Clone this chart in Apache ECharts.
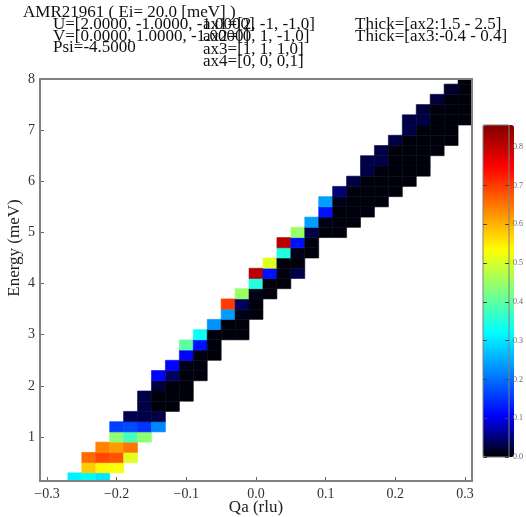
<!DOCTYPE html>
<html>
<head>
<meta charset="utf-8">
<script src="https://cdn.jsdelivr.net/npm/echarts@6/dist/echarts.min.js"></script>
<style>
  html, body { margin: 0; padding: 0; background: #fff; }
  #chart { width: 526px; height: 517px; }
</style>
</head>
<body>
<div id="chart"></div>
<script>
// energy bin centres (meV), one per row of the slice
const energy = [0.2, 0.4, 0.6, 0.8, 1.0, 1.2, 1.4, 1.6, 1.8, 2.0,
                2.2, 2.4, 2.6, 2.8, 3.0, 3.2, 3.4, 3.6, 3.8, 4.0,
                4.2, 4.4, 4.6, 4.8, 5.0, 5.2, 5.4, 5.6, 5.8, 6.0,
                6.2, 6.4, 6.6, 6.8, 7.0, 7.2, 7.4, 7.6, 7.8, 8.0]

// Qa centre of the first filled bin in each row (rlu)
const rowStartQ = [-0.26, -0.24, -0.24, -0.22, -0.20, -0.20, -0.18, -0.16, -0.16, -0.14,
                   -0.14, -0.12, -0.10, -0.10, -0.08, -0.06, -0.04, -0.04, -0.02, 0.00,
                   0.00, 0.02, 0.04, 0.04, 0.06, 0.08, 0.10, 0.10, 0.12, 0.14,
                   0.16, 0.16, 0.18, 0.20, 0.22, 0.22, 0.24, 0.26, 0.28, 0.30]

// intensity of consecutive Qa bins along each row
const intensity = [
  [0.31, 0.32, 0.30],
  [0.58, 0.54, 0.53],
  [0.66, 0.69, 0.68, 0.51],
  [0.64, 0.62, 0.65],
  [0.44, 0.38, 0.44],
  [0.16, 0.17, 0.15, 0.22],
  [0.035, 0.03, 0.03],
  [0.03, 0.005, 0.005],
  [0.03, 0.005, 0.005, 0.005],
  [0.025, 0.005, 0.005],
  [0.11, 0.04, 0.005, 0.005],
  [0.11, 0.01, 0.005],
  [0.11, 0.005, 0.005],
  [0.40, 0.12, 0.005],
  [0.33, 0.005, 0.005, 0.005],
  [0.23, 0.005, 0.005],
  [0.24, 0.01, 0.005],
  [0.70, 0.04, 0.005],
  [0.45, 0.01, 0.005],
  [0.35, 0.005, 0.005],
  [0.81, 0.12, 0.005, 0.03],
  [0.51, 0.005, 0.005],
  [0.35, 0.01, 0.005],
  [0.81, 0.12, 0.005],
  [0.45, 0.03, 0.005, 0.005],
  [0.24, 0.01, 0.005, 0.005],
  [0.12, 0.005, 0.005, 0.005],
  [0.24, 0.01, 0.005, 0.005, 0.005],
  [0.05, 0.005, 0.005, 0.005, 0.005],
  [0.03, 0.005, 0.005, 0.005, 0.005],
  [0.03, 0.005, 0.005, 0.005, 0.005],
  [0.03, 0.03, 0.005, 0.005, 0.005],
  [0.03, 0.005, 0.005, 0.005, 0.005],
  [0.03, 0.005, 0.005, 0.005, 0.005],
  [0.03, 0.005, 0.005, 0.005],
  [0.03, 0.03, 0.005, 0.005, 0.005],
  [0.025, 0.005, 0.005, 0.005],
  [0.025, 0.005, 0.005],
  [0.02, 0.005],
  [0.005]
]

const qBin = 0.02
const eBin = 0.2

const qTicks = [-0.3, -0.2, -0.1, 0.0, 0.1, 0.2, 0.3]
const eTicks = [1, 2, 3, 4, 5, 6, 7, 8]
const cbarTicks = [0.0, 0.1, 0.2, 0.3, 0.4, 0.5, 0.6, 0.7, 0.8]
const cbarMax = 0.856

const headerLeft = ['AMR21961 ( Ei= 20.0 [meV] )', 'U=[2.0000, -1.0000, -1.0000]', 'V=[0.0000, 1.0000, -1.0000]', 'Psi=-4.5000']
const headerAxes = ['ax1=[2, -1, -1,0]', 'ax2=[0, 1, -1,0]', 'ax3=[1, 1, 1,0]', 'ax4=[0, 0, 0,1]']
const headerThick = ['Thick=[ax2:1.5 - 2.5]', 'Thick=[ax3:-0.4 - 0.4]']

// flatten rows into [Qa, E, I] cells
const cells = []
energy.forEach((e, j) => {
  intensity[j].forEach((v, k) => {
    cells.push([+(rowStartQ[j] + k * qBin).toFixed(2), e, v])
  })
})

const serif = 'Liberation Serif'
const minus = v => String(v).replace('-', '\u2212')

const chart = echarts.init(document.getElementById('chart'))

const headerText = (text, x, y) => ({
  type: 'text', x: x, y: y,
  style: { text: text, font: '17px "' + serif + '"', fill: '#111', textVerticalAlign: 'middle' }
})

const option = {
  animation: false,
  grid: [
    { left: 40, top: 79, width: 432, height: 402, show: true, borderColor: '#808080', borderWidth: 2, z: 6 },
    { left: 483, top: 125, width: 31, height: 332, show: true, borderColor: '#808080', borderWidth: 1, z: 6 }
  ],
  xAxis: [
    {
      type: 'value', gridIndex: 0, min: -0.31, max: 0.31,
      axisLine: { show: false, onZero: false },
      axisTick: { show: true, inside: true, length: 4, customValues: qTicks, lineStyle: { color: '#666' } },
      axisLabel: {
        customValues: qTicks, margin: 6, color: '#333',
        fontFamily: serif, fontSize: 14,
        formatter: v => minus(v.toFixed(1))
      },
      splitLine: { show: false }
    },
    { type: 'value', gridIndex: 1, show: false, min: 0, max: 1 }
  ],
  yAxis: [
    {
      type: 'value', gridIndex: 0, min: 0.14, max: 8.0,
      axisLine: { show: false, onZero: false },
      axisTick: { show: true, inside: true, length: 4, customValues: eTicks, lineStyle: { color: '#666' } },
      axisLabel: {
        customValues: eTicks, margin: 5, color: '#333',
        fontFamily: serif, fontSize: 14,
        formatter: v => String(Math.round(v))
      },
      splitLine: { show: false }
    },
    {
      type: 'value', gridIndex: 1, position: 'right', min: 0, max: cbarMax, z: 6,
      axisLine: { show: false, onZero: false },
      axisTick: { show: true, inside: true, length: 4, customValues: cbarTicks, lineStyle: { color: '#444' } },
      axisLabel: {
        customValues: cbarTicks, margin: 4, color: '#666',
        fontFamily: serif, fontSize: 8,
        formatter: v => v.toFixed(1)
      },
      splitLine: { show: false }
    },
    {
      type: 'value', gridIndex: 1, position: 'left', min: 0, max: cbarMax, z: 6,
      axisLine: { show: false, onZero: false },
      axisTick: { show: true, inside: true, length: 4, customValues: cbarTicks, lineStyle: { color: '#444' } },
      axisLabel: { show: false },
      splitLine: { show: false }
    }
  ],
  visualMap: {
    type: 'continuous',
    min: 0, max: cbarMax,
    dimension: 2, seriesIndex: 0,
    calculable: false, hoverLink: false,
    orient: 'vertical', left: 483, top: 125, padding: 0,
    itemWidth: 31, itemHeight: 332,
    text: null,
    inRange: {
      color: ['#000000', '#0000ff', '#0080ff', '#00ffff', '#80ff80', '#ffff00', '#ff8000', '#ff0000', '#800000']
    }
  },
  series: [{
    type: 'custom',
    xAxisIndex: 0, yAxisIndex: 0,
    data: cells,
    renderItem: function (params, api) {
      const q = api.value(0)
      const e = api.value(1)
      const p0 = api.coord([q - qBin / 2, e + eBin / 2])
      const p1 = api.coord([q + qBin / 2, e - eBin / 2])
      const rect = echarts.graphic.clipRectByRect(
        { x: p0[0], y: p0[1], width: p1[0] - p0[0], height: p1[1] - p0[1] },
        { x: params.coordSys.x, y: params.coordSys.y, width: params.coordSys.width, height: params.coordSys.height }
      )
      if (!rect) return
      const color = api.visual('color')
      return { type: 'rect', shape: rect, style: { fill: color, stroke: color, lineWidth: 0.6 } }
    }
  }],
  graphic: [
    headerText(headerLeft[0], 23, 13),
    headerText(headerLeft[1], 53, 25),
    headerText(headerLeft[2], 53, 37),
    headerText(headerLeft[3], 53, 48),
    headerText(headerAxes[0], 203, 25),
    headerText(headerAxes[1], 203, 37),
    headerText(headerAxes[2], 203, 50),
    headerText(headerAxes[3], 203, 62),
    headerText(headerThick[0], 355, 25),
    headerText(headerThick[1], 355, 37),
    {
      type: 'text', x: 256, y: 508,
      style: { text: 'Qa (rlu)', font: '17px "' + serif + '"', fill: '#222', textAlign: 'center', textVerticalAlign: 'middle' }
    },
    {
      type: 'text', x: 15, y: 248, rotation: Math.PI / 2,
      style: { text: 'Energy (meV)', font: '17px "' + serif + '"', fill: '#222', textAlign: 'center', textVerticalAlign: 'middle' }
    }
  ]
}

chart.setOption(option)
</script>
</body>
</html>
